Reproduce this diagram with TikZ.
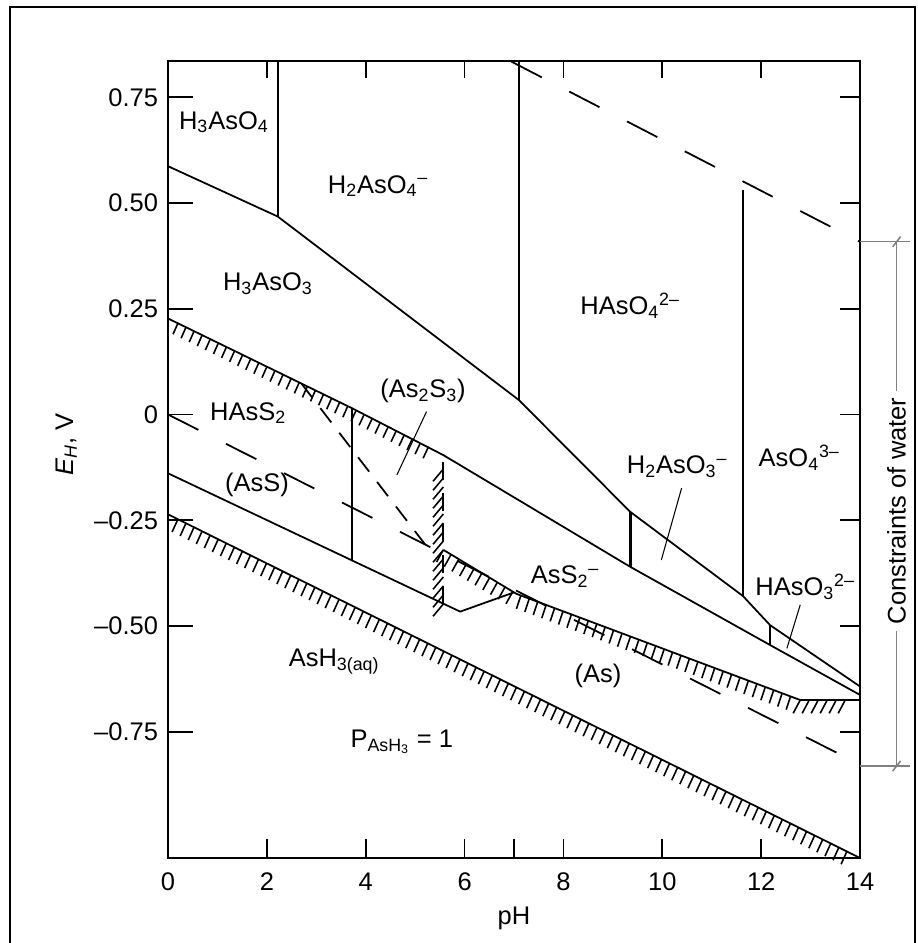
\documentclass[tikz,border=0pt]{standalone}
\usepackage{fontspec}
\setmainfont{Liberation Sans}
\usetikzlibrary{decorations.pathreplacing}
\tikzset{
	bound/.style={line width=1pt, line join=round},
	hatch/.style 2 args={postaction={decorate, draw, solid, line width=0.9pt,
			decoration={border, segment length=0.18cm, amplitude=#1, angle=#2}}},
	lbl/.style={font=\fontsize{14.5}{17}\selectfont, inner sep=1pt},
}
\newcommand{\dn}[1]{\textsubscript{#1}}
\newcommand{\up}[1]{\textsuperscript{#1}}

\begin{document}
\begin{tikzpicture}[
		x=0.9886cm, y=8.46cm,
		axisline/.style={line width=1.6pt},
		tickmark/.style={line width=1pt},
		water/.style={line width=1pt, dash pattern=on 0.68cm off 0.62cm},
		fieldline/.style={line width=1pt, dash pattern=on 0.36cm off 0.26cm},
		lead/.style={line width=0.6pt},
		limit/.style={line width=0.9pt, gray}
	]
	\useasboundingbox (-3.399,-1.2494) rectangle (15.153,0.9799);

	% outer frame
	\draw[axisline] (-3.196,-1.30) -- (-3.196,0.9634) -- (15.112,0.9634) -- (15.112,-1.30);

	% axes and ticks
	\draw[axisline] (0,-1.0485) rectangle (14,0.8357);
	\foreach \e/\t in {0.75/0.75, 0.5/0.50, 0.25/0.25, 0/0, -0.25/--0.25, -0.5/--0.50, -0.75/--0.75} {
		\draw[tickmark] (0,\e) -- (0.506,\e);
		\draw[tickmark] (14,\e) -- (13.595,\e);
		\node[lbl, anchor=east] (ylab\t) at (-0.16,\e) {\t};
	}
	\foreach \p in {2,4,6,7,8,10,12}
		\draw[tickmark] (\p,-1.0485) -- (\p,-1.0035);
	\foreach \p in {2,4,...,12}
		\draw[tickmark] (\p,0.8357) -- (\p,0.7955);
	\foreach \p in {0,2,...,14}
		\node[lbl] (xlab\p) at (\p,-1.105) {\p};
	\node[lbl] (ph) at (7.0,-1.19) {pH};
	\node[lbl, rotate=90] (eh) at (-2.06,-0.071) {\textit{E}\dn{\textit{H}}, V};

	% oxidised arsenic fields
	\draw[bound] (0,0.587) -- (2.22,0.468) -- (7.1,0.034) -- (9.35,-0.230) -- (11.63,-0.429) -- (12.18,-0.498) -- (14,-0.643);
	\draw[bound] (2.22,0.8357) -- (2.22,0.468);
	\draw[bound] (7.1,0.8357) -- (7.1,0.034);
	\draw[bound] (11.63,0.531) -- (11.63,-0.429);
	\draw[line width=1.8pt] (9.35,-0.230) -- (9.35,-0.360);
	\draw[bound] (12.18,-0.498) -- (12.18,-0.545);

	% sulfide fields
	\draw[bound] (0,0.227) -- (3.72,0.015) -- (5.57,-0.096) -- (9.35,-0.360) -- (12.18,-0.545) -- (14,-0.663);
	\path[hatch={0.24cm}{-88}] (0.2,0.2156) -- (3.72,0.015) -- (5.57,-0.096);
	\draw[bound] (3.72,0.015) -- (3.72,-0.345);
	\draw[bound] (0,-0.139) -- (5.91,-0.466) -- (7.0,-0.4205);
	\draw[fieldline] (2.7,0.073) -- (5.2,-0.307);
	\draw[fieldline, hatch={0.32cm}{140}] (5.57,-0.448) -- (5.57,-0.096);
	\draw[bound, hatch={0.28cm}{-88}] (5.57,-0.320) -- (7.05,-0.424) -- (12.79,-0.675);
	\draw[bound, hatch={0.3cm}{-118}] (12.79,-0.675) -- (14,-0.675);

	% arsine
	\draw[bound] (0,-0.236) -- (14,-1.0485);
	\path[hatch={0.28cm}{-88}] (0.2,-0.2476) -- (14,-1.0485);

	% stability limits of water
	\draw[water] (0,0) -- (14,-0.8274);
	\draw[water] (6.95,0.834) -- (14,0.408);

	% field labels
	\node[lbl] (h3aso4) at (1.13,0.691) {H\dn{3}AsO\dn{4}};
	\node[lbl] (h2aso4) at (4.25,0.540) {H\dn{2}AsO\dn{4}\up{--}};
	\node[lbl] (h3aso3) at (2.02,0.3085) {H\dn{3}AsO\dn{3}};
	\node[lbl] (haso4) at (9.35,0.2565) {HAsO\dn{4}\up{2--}};
	\node[lbl] (hass2) at (1.62,0.0035) {HAsS\dn{2}};
	\node[lbl] (as2s3) at (5.16,0.0556) {(As\dn{2}S\dn{3})};
	\node[lbl] (ass) at (1.80,-0.1667) {(AsS)};
	\node[lbl] (ass2) at (8.03,-0.384) {AsS\dn{2}\up{--}};
	\node[lbl] (h2aso3) at (10.30,-0.124) {H\dn{2}AsO\dn{3}\up{--}};
	\node[lbl] (aso4) at (12.77,-0.103) {AsO\dn{4}\up{3--}};
	\node[lbl] (haso3) at (12.89,-0.408) {HAsO\dn{3}\up{2--}};
	\node[lbl] (as) at (8.70,-0.618) {(As)};
	\node[lbl] (ash3) at (3.36,-0.585) {AsH\dn{3(aq)}};
	\node[lbl] (pash3) at (4.73,-0.774) {P\dn{AsH\dn{3}} = 1};

	% leaders
	\coordinate (as2s3a) at (5.23,0.007);
	\coordinate (as2s3b) at (4.63,-0.143);
	\coordinate (h2aso3a) at (10.39,-0.174);
	\coordinate (h2aso3b) at (9.98,-0.344);
	\coordinate (haso3a) at (12.79,-0.450);
	\coordinate (haso3b) at (12.52,-0.553);
	\draw[lead] (as2s3a) -- (as2s3b);
	\draw[lead] (h2aso3a) -- (h2aso3b);
	\draw[lead] (haso3a) -- (haso3b);

	% constraints of water
	\coordinate (wtop) at (14.74,0.4085);
	\coordinate (wbot) at (14.74,-0.831);
	\draw[limit] (14,0.4085) -- (15.01,0.4085);
	\draw[limit] (14,-0.831) -- (15.01,-0.831);
	\draw[limit] (wtop) -- (wbot);
	\draw[limit] ([shift={(-0.08,-0.012)}]wtop) -- ([shift={(0.08,0.012)}]wtop);
	\draw[limit] ([shift={(-0.08,-0.012)}]wbot) -- ([shift={(0.08,0.012)}]wbot);
	\node[lbl, rotate=90, fill=white, inner sep=4pt] (cow) at (14.74,-0.228) {Constraints of water};
\end{tikzpicture}
\end{document}
